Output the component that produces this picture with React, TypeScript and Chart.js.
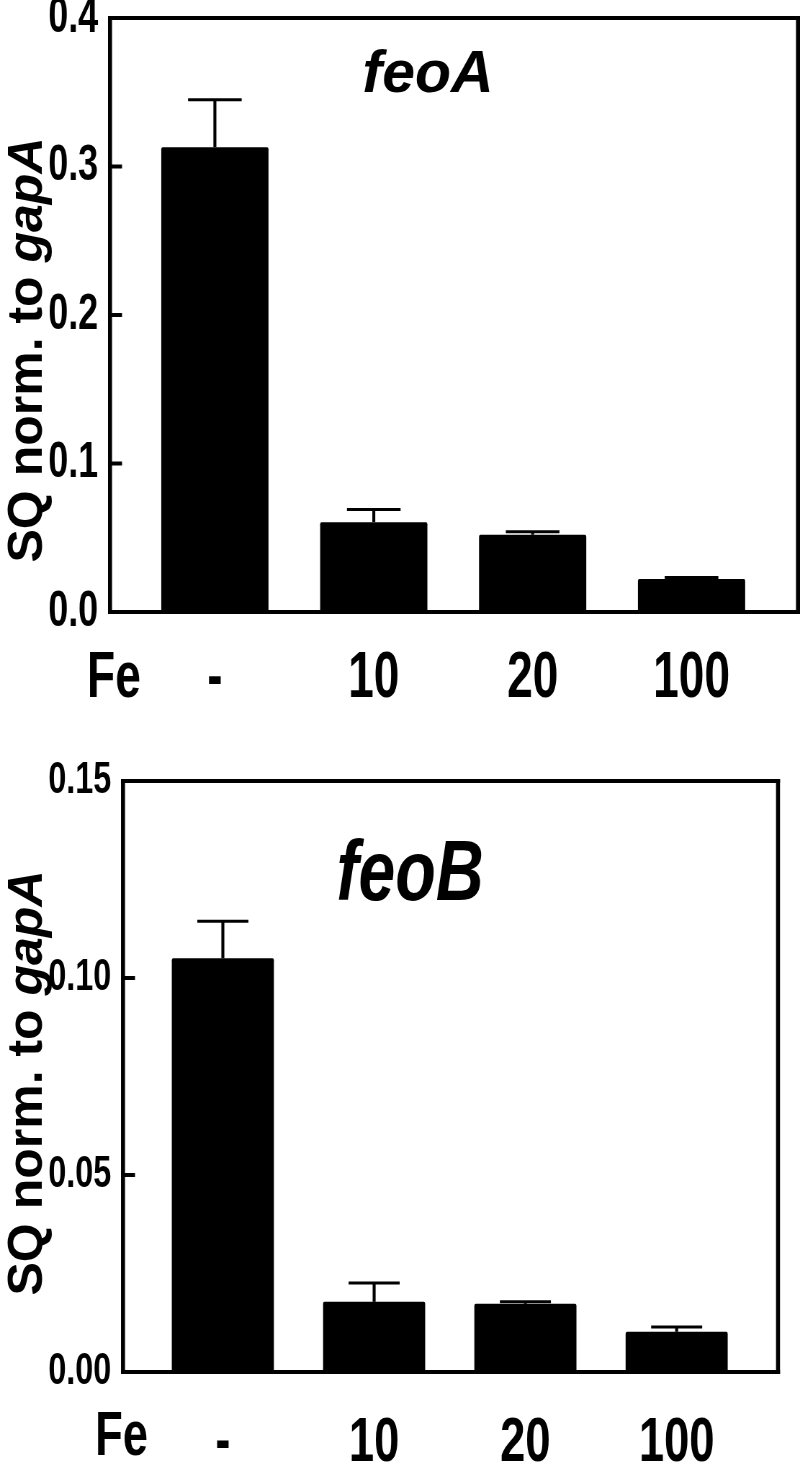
import React, { useEffect, useRef } from "react";
import { Chart, registerables } from "chart.js";

Chart.register(...registerables);

// ---- data ----
const categories = ["-", "10", "20", "100"];
const feoAValues = [0.313, 0.0605, 0.052, 0.0222];
const feoAErrors = [0.032, 0.0085, 0.002, 0.001];
const feoBValues = [0.105, 0.0178, 0.0173, 0.0102];
const feoBErrors = [0.0094, 0.0048, 0.0005, 0.0012];
const feoATicks = [0, 0.1, 0.2, 0.3, 0.4];
const feoBTicks = [0, 0.05, 0.1, 0.15];
const xGroupLabel = "Fe";
const yTitleMain = "SQ norm. to ";
const yTitleGene = "gapA";

// The chart is drawn on a wider canvas and squeezed horizontally so that
// Liberation Sans Bold takes the look of a tall, condensed face.
const CANVAS_W = 1111;
const K = 800 / CANVAS_W;
const FONT = "'Liberation Sans', Arial, sans-serif";

type PanelCfg = {
  title: string;
  titleSqueeze: number;
  titleSize: number;
  values: number[];
  errors: number[];
  ticks: number[];
  decimals: number;
  height: number;
  top: number;
  padTop: number;
  left: number; // real px
  right: number; // real px
  xHeight: number;
  yFont: number;
  xFont: number;
  xPad: number;
  titleX: number;
  titleY: number;
  yTitleCenter: number;
  yTitleX: number;
  feX: number;
  feY: number;
};

// draw text at a real (on-screen) x, with its own horizontal squeeze
function drawText(ctx: any, text: string, realX: number, y: number, squeeze: number) {
  ctx.save();
  ctx.scale(squeeze / K, 1);
  ctx.fillText(text, realX / squeeze, y);
  ctx.restore();
}

const overlayPlugin = {
  id: "overlay",
  afterDatasetsDraw(chart: any, _args: any, opts: any) {
    const cfg: PanelCfg = opts.cfg;
    const { ctx, chartArea: ca, scales } = chart;
    const ys = scales.y;
    const meta = chart.getDatasetMeta(0);
    ctx.save();
    ctx.strokeStyle = "#000";
    ctx.fillStyle = "#000";
    // error bars
    meta.data.forEach((bar: any, i: number) => {
      const v = cfg.values[i];
      const yBar = ys.getPixelForValue(v);
      const yTop = ys.getPixelForValue(v + cfg.errors[i]);
      const half = bar.width / 4;
      ctx.lineWidth = 3 / K;
      ctx.beginPath();
      ctx.moveTo(bar.x, yBar);
      ctx.lineTo(bar.x, yTop);
      ctx.stroke();
      ctx.lineWidth = 3;
      ctx.beginPath();
      ctx.moveTo(bar.x - half, yTop);
      ctx.lineTo(bar.x + half, yTop);
      ctx.stroke();
    });
    // frame: horizontal edges
    ctx.lineWidth = 4;
    ctx.beginPath();
    ctx.moveTo(ca.left - 2 / K, ca.top);
    ctx.lineTo(ca.right + 2 / K, ca.top);
    ctx.moveTo(ca.left - 2 / K, ca.bottom);
    ctx.lineTo(ca.right + 2 / K, ca.bottom);
    ctx.stroke();
    // frame: vertical edges
    ctx.lineWidth = 4 / K;
    ctx.beginPath();
    ctx.moveTo(ca.left, ca.top - 2);
    ctx.lineTo(ca.left, ca.bottom + 2);
    ctx.moveTo(ca.right, ca.top - 2);
    ctx.lineTo(ca.right, ca.bottom + 2);
    ctx.stroke();
    // inner tick marks
    ctx.lineWidth = 4;
    ys.ticks.forEach((t: any) => {
      const y = ys.getPixelForValue(t.value);
      ctx.beginPath();
      ctx.moveTo(ca.left, y);
      ctx.lineTo(ca.left + 12 / K, y);
      ctx.stroke();
    });
    ctx.textBaseline = "alphabetic";
    // panel title
    ctx.textAlign = "center";
    ctx.font = `italic bold ${cfg.titleSize}px ${FONT}`;
    drawText(ctx, cfg.title, cfg.titleX, cfg.titleY, cfg.titleSqueeze);
    // Fe label (same face as the category labels)
    ctx.font = `bold ${cfg.xFont}px ${FONT}`;
    ctx.textAlign = "left";
    drawText(ctx, xGroupLabel, cfg.feX, cfg.feY, K);
    // y title (rotated, mixed style, normal width)
    ctx.save();
    ctx.scale(1 / K, 1);
    ctx.translate(cfg.yTitleX, cfg.yTitleCenter);
    ctx.rotate(-Math.PI / 2);
    const f1 = `bold 50px ${FONT}`;
    const f2 = `italic bold 50px ${FONT}`;
    ctx.font = f1;
    const w1 = ctx.measureText(yTitleMain).width;
    ctx.font = f2;
    const w2 = ctx.measureText(yTitleGene).width;
    const start = -(w1 + w2) / 2;
    ctx.textAlign = "left";
    ctx.font = f1;
    ctx.fillText(yTitleMain, start, 0);
    ctx.font = f2;
    ctx.fillText(yTitleGene, start + w1, 0);
    ctx.restore();
    ctx.restore();
  },
};

function Panel({ cfg }: { cfg: PanelCfg }) {
  const ref = useRef<HTMLCanvasElement | null>(null);
  useEffect(() => {
    if (!ref.current) return;
    const chart = new Chart(ref.current, {
      type: "bar",
      data: {
        datasets: [
          {
            data: cfg.values.map((v, i) => ({ x: i, y: v })),
            backgroundColor: "#000",
            borderWidth: 0,
            borderRadius: 2,
            categoryPercentage: 1,
            barPercentage: 0.675,
          },
        ],
      },
      options: {
        responsive: false,
        animation: false,
        devicePixelRatio: 1,
        layout: {
          padding: { left: 0, right: CANVAS_W - cfg.right / K, top: cfg.padTop, bottom: 0 },
        },
        plugins: {
          legend: { display: false },
          tooltip: { enabled: false },
          title: { display: false },
          overlay: { cfg },
        } as any,
        scales: {
          x: {
            type: "linear",
            min: -0.66,
            max: 3.67,
            offset: false,
            grid: { display: false },
            border: { display: false },
            afterBuildTicks: (scale: any) => {
              scale.ticks = categories.map((_, i) => ({ value: i }));
            },
            afterFit: (scale: any) => {
              scale.height = cfg.xHeight;
              scale.paddingLeft = 0;
              scale.paddingRight = 0;
            },
            ticks: {
              autoSkip: false,
              maxRotation: 0,
              minRotation: 0,
              padding: cfg.xPad,
              color: "#000",
              font: { family: FONT, size: cfg.xFont, weight: "bold" },
              callback: (v: any) => categories[Math.round(Number(v))] ?? "",
            },
          },
          y: {
            type: "linear",
            min: cfg.ticks[0],
            max: cfg.ticks[cfg.ticks.length - 1],
            grid: { display: false },
            border: { display: false },
            afterBuildTicks: (scale: any) => {
              scale.ticks = cfg.ticks.map((v) => ({ value: v }));
            },
            afterFit: (scale: any) => {
              scale.width = cfg.left / K;
              scale.paddingTop = 0;
              scale.paddingBottom = 0;
            },
            ticks: {
              padding: 6 / K,
              color: "#000",
              font: { family: FONT, size: cfg.yFont, weight: "bold" },
              callback: (v: any) => Number(v).toFixed(cfg.decimals),
            },
          },
        },
      } as any,
      plugins: [overlayPlugin],
    });
    return () => chart.destroy();
  }, [cfg]);
  return (
    <div
      style={{
        position: "absolute",
        left: 0,
        top: cfg.top,
        width: CANVAS_W,
        height: cfg.height,
        transform: `scaleX(${K})`,
        transformOrigin: "0 0",
      }}
    >
      <canvas
        ref={ref}
        width={CANVAS_W}
        height={cfg.height}
        style={{ display: "block", width: CANVAS_W, height: cfg.height }}
      />
    </div>
  );
}

const panelA: PanelCfg = {
  title: "feoA",
  titleSqueeze: 1,
  titleSize: 59,
  values: feoAValues,
  errors: feoAErrors,
  ticks: feoATicks,
  decimals: 1,
  height: 720,
  top: 0,
  padTop: 18,
  left: 110,
  right: 798,
  xHeight: 108,
  yFont: 50,
  xFont: 64,
  xPad: 21,
  titleX: 428,
  titleY: 92,
  yTitleCenter: 350,
  yTitleX: 42,
  feX: 87,
  feY: 697,
};

const panelB: PanelCfg = {
  title: "feoB",
  titleSqueeze: 0.77,
  titleSize: 86,
  values: feoBValues,
  errors: feoBErrors,
  ticks: feoBTicks,
  decimals: 2,
  height: 747,
  top: 720,
  padTop: 61,
  left: 123,
  right: 778,
  xHeight: 95,
  yFont: 45,
  xFont: 63,
  xPad: 26,
  titleX: 410,
  titleY: 180,
  yTitleCenter: 363,
  yTitleX: 42,
  feX: 95,
  feY: 735,
};

export default function App() {
  return (
    <div style={{ position: "absolute", left: 0, top: 0, width: 800, height: 1467, background: "#fff", overflow: "hidden" }}>
      <Panel cfg={panelA} />
      <Panel cfg={panelB} />
    </div>
  );
}
